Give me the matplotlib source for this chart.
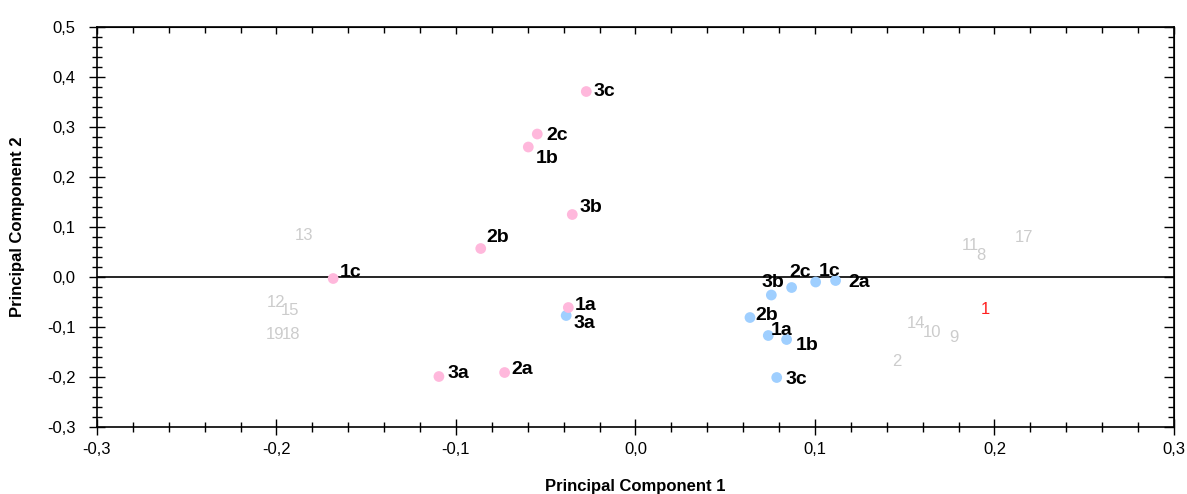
import matplotlib
matplotlib.use("Agg")
import matplotlib.pyplot as plt
from matplotlib.ticker import MultipleLocator, FuncFormatter

plt.rcParams['font.family'] = ['Liberation Sans', 'DejaVu Sans']

# scores of the samples on the first two components
pink_names = ["3c", "2c", "1b", "3b", "2b", "1c", "1a", "3a", "2a"]
pink_pc1 = [-0.0274, -0.0547, -0.0597, -0.0352, -0.0862, -0.1684, -0.0374, -0.1095, -0.0729]
pink_pc2 = [0.371, 0.286, 0.260, 0.125, 0.057, -0.003, -0.061, -0.199, -0.191]

blue_names = ["1a", "1b", "1c", "2a", "2b", "2c", "3a", "3b", "3c"]
blue_pc1 = [0.0740, 0.0842, 0.1004, 0.1115, 0.0638, 0.0870, -0.0386, 0.0757, 0.0787]
blue_pc2 = [-0.117, -0.125, -0.010, -0.007, -0.081, -0.021, -0.077, -0.036, -0.201]

# variable loadings shown as numbers
var_names = ["13", "12", "15", "19", "18", "11", "8", "17", "1", "14", "10", "9", "2"]
var_pc1 = [-0.1847, -0.2003, -0.1925, -0.2008, -0.1919, 0.1867, 0.1923, 0.2164,
           0.1951, 0.1561, 0.1650, 0.1776, 0.1455]
var_pc2 = [0.084, -0.050, -0.066, -0.114, -0.114, 0.063, 0.044, 0.080,
           -0.064, -0.092, -0.111, -0.121, -0.168]
highlight = "1"

# label offsets in pixels (left edge, vertical centre)
pink_off = [(7.7, 2.7), (8.7, 1), (7.7, -9), (7.7, 9.3), (5.3, 13.3),
            (6.7, 8.3), (6.7, 4.7), (9, 5.7), (6.3, 5.3)]
blue_off = [(2.7, 7.3), (9.3, -3.7), (3.3, 13), (12.3, 0.3), (5, 4.3),
            (-2.7, 17.3), (7.7, -5.3), (-10.3, 15), (8.3, 0.7)]

PINK = "#ffb8dc"
BLUE = "#9fcfff"

fig = plt.figure(figsize=(11.87, 4.94), dpi=100)
ax = fig.add_axes([0.0817, 0.1356, 0.9073, 0.8097])

ax.axhline(0, color="black", lw=1.2, zorder=1)

ax.scatter(blue_pc1, blue_pc2, s=60, color=BLUE, edgecolors="none", zorder=3)
ax.scatter(pink_pc1, pink_pc2, s=60, color=PINK, edgecolors="none", zorder=4)

for names, xs, ys, offs in [(blue_names, blue_pc1, blue_pc2, blue_off),
                            (pink_names, pink_pc1, pink_pc2, pink_off)]:
    for n, x, y, (dx, dy) in zip(names, xs, ys, offs):
        ax.annotate(n, (x, y), xytext=(dx, dy - 7), textcoords="offset pixels",
                    ha="left", va="baseline", fontsize=14, fontweight="bold",
                    color="black", zorder=5)

for n, x, y in zip(var_names, var_pc1, var_pc2):
    c = "#ff2020" if n == highlight else "#cccccc"
    ax.text(x, y, n, ha="center", va="center", fontsize=12, color=c, zorder=2)

ax.set_xlim(-0.3, 0.3)
ax.set_ylim(-0.3, 0.5)

comma = FuncFormatter(lambda v, p: ("%.1f" % v).replace(".", ",").replace("-0,0", "0,0"))
ax.xaxis.set_major_locator(MultipleLocator(0.1))
ax.xaxis.set_minor_locator(MultipleLocator(0.02))
ax.yaxis.set_major_locator(MultipleLocator(0.1))
ax.yaxis.set_minor_locator(MultipleLocator(0.02))
ax.xaxis.set_major_formatter(comma)
ax.yaxis.set_major_formatter(comma)

ax.tick_params(which="major", direction="inout", length=11, width=1, labelsize=12, colors="black")
ax.tick_params(which="minor", direction="inout", length=7, width=1)
ax.tick_params(axis="x", which="major", pad=5)
ax.tick_params(axis="y", which="major", pad=10)

# top and right spines carry short inward ticks only
top = ax.secondary_xaxis("top")
top.xaxis.set_major_locator(MultipleLocator(0.1))
top.xaxis.set_minor_locator(MultipleLocator(0.02))
top.tick_params(which="major", direction="in", length=5, width=1, labeltop=False)
top.tick_params(which="minor", direction="in", length=4, width=1)
right = ax.secondary_yaxis("right")
right.yaxis.set_major_locator(MultipleLocator(0.1))
right.yaxis.set_minor_locator(MultipleLocator(0.02))
right.tick_params(which="major", direction="in", length=7, width=1, labelright=False)
right.tick_params(which="minor", direction="in", length=4, width=1)

for sp in ax.spines.values():
    sp.set_linewidth(1.2)

ax.set_xlabel("Principal Component 1", fontsize=12, fontweight="bold", labelpad=16)
ax.set_ylabel("Principal Component 2", fontsize=12, fontweight="bold", labelpad=16)

fig.savefig("out.png", dpi=100)
